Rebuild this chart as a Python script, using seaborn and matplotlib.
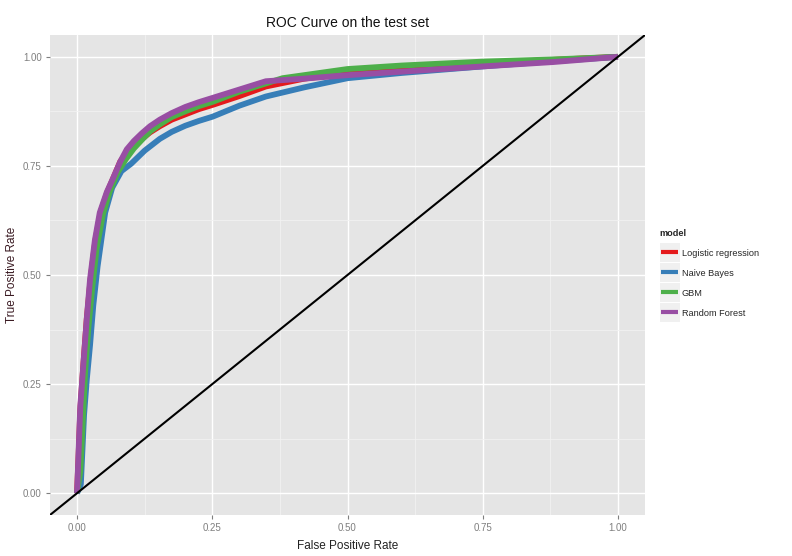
import numpy as np
import pandas as pd
import matplotlib
matplotlib.use("Agg")
import matplotlib.pyplot as plt
import seaborn as sns
from matplotlib.lines import Line2D
from matplotlib.patches import Rectangle
from matplotlib.legend_handler import HandlerBase

models = ["Logistic regression", "Naive Bayes", "GBM", "Random Forest"]
colors = ["#E41A1C", "#377EB8", "#4DAF4A", "#984EA3"]

lr_fpr = [0, 0.003, 0.006, 0.012, 0.018, 0.025, 0.034, 0.044, 0.056, 0.068, 0.08, 0.092, 0.105, 0.12, 0.135, 0.153, 0.175, 0.2, 0.225, 0.251, 0.3, 0.349, 0.42, 0.5, 0.6, 0.75, 0.88, 1.0]
lr_tpr = [0, 0.09, 0.19, 0.3, 0.4, 0.49, 0.58, 0.645, 0.69, 0.725, 0.76, 0.78, 0.797, 0.812, 0.827, 0.841, 0.856, 0.868, 0.88, 0.89, 0.91, 0.932, 0.95, 0.963, 0.975, 0.985, 0.993, 1.0]

nb_fpr = [0, 0.007, 0.01, 0.013, 0.018, 0.024, 0.03, 0.038, 0.052, 0.065, 0.082, 0.1, 0.125, 0.153, 0.175, 0.2, 0.225, 0.251, 0.3, 0.349, 0.42, 0.5, 0.6, 0.75, 0.88, 1.0]
nb_tpr = [0, 0.02, 0.1, 0.18, 0.26, 0.339, 0.43, 0.52, 0.643, 0.7, 0.738, 0.755, 0.785, 0.812, 0.828, 0.842, 0.853, 0.863, 0.888, 0.909, 0.93, 0.951, 0.963, 0.978, 0.99, 1.0]

gbm_fpr = [0, 0.006, 0.01, 0.015, 0.021, 0.028, 0.036, 0.048, 0.06, 0.075, 0.09, 0.105, 0.12, 0.135, 0.153, 0.175, 0.2, 0.225, 0.251, 0.3, 0.38, 0.5, 0.6, 0.75, 0.88, 1.0]
gbm_tpr = [0, 0.05, 0.15, 0.28, 0.38, 0.47, 0.56, 0.64, 0.69, 0.735, 0.765, 0.79, 0.81, 0.829, 0.845, 0.862, 0.875, 0.887, 0.897, 0.92, 0.951, 0.972, 0.98, 0.989, 0.994, 1.0]

rf_fpr = [0, 0.003, 0.006, 0.012, 0.018, 0.024, 0.033, 0.042, 0.055, 0.066, 0.08, 0.092, 0.105, 0.12, 0.135, 0.153, 0.175, 0.2, 0.225, 0.251, 0.3, 0.349, 0.42, 0.5, 0.6, 0.75, 0.88, 1.0]
rf_tpr = [0, 0.1, 0.2, 0.3, 0.4, 0.49, 0.58, 0.643, 0.69, 0.72, 0.76, 0.788, 0.807, 0.825, 0.841, 0.856, 0.871, 0.885, 0.896, 0.906, 0.925, 0.944, 0.95, 0.958, 0.966, 0.978, 0.988, 1.0]

xticks = [0.0, 0.25, 0.5, 0.75, 1.0]
yticks = [0.0, 0.25, 0.5, 0.75, 1.0]
tick_labels = ["0.00", "0.25", "0.50", "0.75", "1.00"]

frames = []
for name, fx, ty in zip(models, [lr_fpr, nb_fpr, gbm_fpr, rf_fpr], [lr_tpr, nb_tpr, gbm_tpr, rf_tpr]):
    frames.append(pd.DataFrame({"fpr": fx, "tpr": ty, "model": name}))
df = pd.concat(frames, ignore_index=True)

sns.set_style("white")
plt.rcParams["font.family"] = ["Liberation Sans", "DejaVu Sans"]

fig = plt.figure(figsize=(7.92, 5.56), dpi=100)
ax = fig.add_axes([50 / 792, 1 - 515 / 556, 595 / 792, 480 / 556])
ax.set_facecolor("#E5E5E5")

sns.lineplot(data=df, x="fpr", y="tpr", hue="model", hue_order=models,
             palette=dict(zip(models, colors)), sort=False, estimator=None,
             linewidth=4.2, ax=ax, legend=False, zorder=3)
for ln in ax.get_lines():
    ln.set_solid_capstyle("butt")
    ln.set_solid_joinstyle("round")
ax.axline((0, 0), slope=1, color="black", linewidth=1.5, zorder=4)

ax.set_xlim(-0.05, 1.05)
ax.set_ylim(-0.05, 1.05)
ax.set_xticks(xticks)
ax.set_xticklabels(tick_labels)
ax.set_yticks(yticks)
ax.set_yticklabels(tick_labels)
ax.set_xticks([0.125, 0.375, 0.625, 0.875], minor=True)
ax.set_yticks([0.125, 0.375, 0.625, 0.875], minor=True)
ax.grid(which="major", color="white", linewidth=1.0, zorder=0)
ax.grid(which="minor", color="#F2F2F2", linewidth=0.6, zorder=0)
ax.set_axisbelow(True)
for s in ax.spines.values():
    s.set_visible(False)
ax.tick_params(axis="both", which="major", length=3, color="#7F7F7F",
               labelcolor="#7F7F7F", labelsize=7, pad=3, direction="out")
ax.tick_params(which="minor", length=0)
ax.tick_params(axis="both", which="both", bottom=True, left=True)

ax.set_xlabel("False Positive Rate", fontsize=8.5, color="#222222")
ax.xaxis.set_label_coords(0.5, -(540 - 515) / 480)
ax.set_ylabel("True Positive Rate", fontsize=8.5, color="#3A1A22")
ax.yaxis.set_label_coords(-(50 - 18) / 595, 0.5)
ax.set_title("ROC Curve on the test set", fontsize=10, color="#111111", pad=6)

PX = 72 / 100  # points per pixel


class KeyHandler(HandlerBase):
    def create_artists(self, legend, orig_handle, xdescent, ydescent, width,
                       height, fontsize, trans):
        w = 20 * PX
        h = 19.5 * PX
        x0 = -xdescent
        cy = -ydescent + height / 2
        rect = Rectangle((x0, cy - h / 2), w, h,
                         facecolor="#F0F0F0", edgecolor="none", transform=trans)
        line = Line2D([x0 + 1.2 * PX, x0 + w - 1.2 * PX], [cy, cy],
                      color=orig_handle.get_color(), linewidth=3.0,
                      solid_capstyle="butt", transform=trans)
        return [rect, line]


fs = 6.6
handles = [Line2D([0], [0], color=c, linewidth=4.2) for c in colors]
leg = fig.legend(handles, models, title="model", loc="upper left",
                 bbox_to_anchor=(656 / 792, 1 - 225 / 556), frameon=False,
                 fontsize=fs, title_fontsize=fs, handlelength=(20 * PX) / fs,
                 labelspacing=1.2, handletextpad=0.25, alignment="left",
                 borderaxespad=0.0, handler_map={Line2D: KeyHandler()})
leg.get_title().set_fontweight("bold")

fig.savefig("out.png", dpi=100)
